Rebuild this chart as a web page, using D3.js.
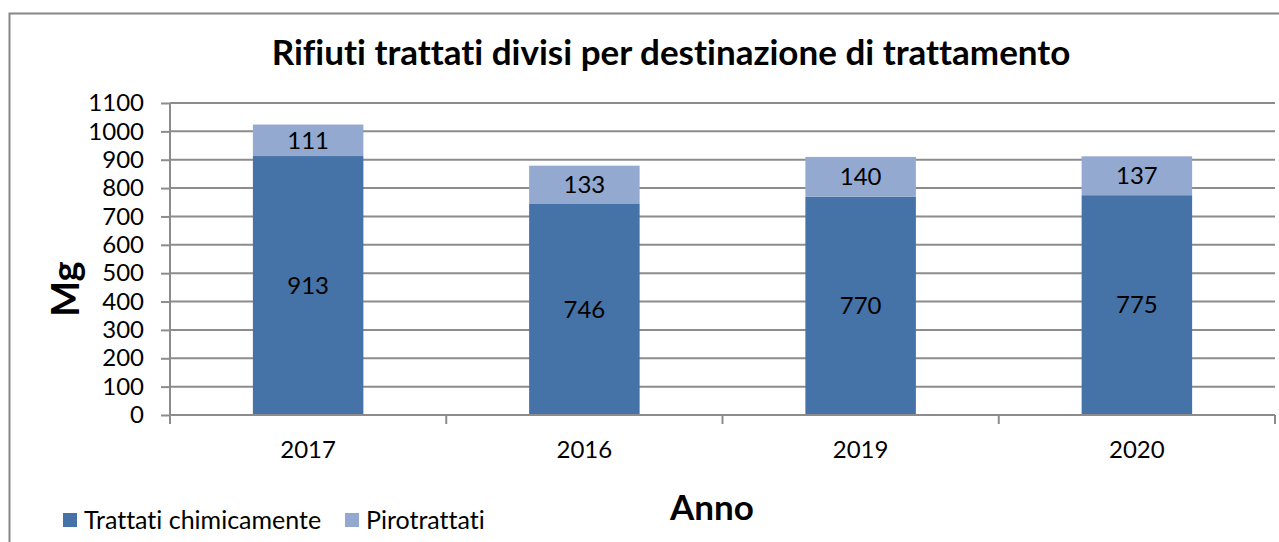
<!DOCTYPE html>
<html>
<head>
<meta charset="utf-8">
<script src="https://cdn.jsdelivr.net/npm/d3@7"></script>
<style>
  body { margin: 0; background: #fff; }
  svg { display: block; font-family: Lato, "Open Sans", sans-serif; font-variant-ligatures: none; }
</style>
</head>
<body>
<script>
// chart data
var years = ["2017", "2016", "2019", "2020"];
var chimici = [913, 746, 770, 775];
var piro = [111, 133, 140, 137];
var seriesNames = ["Trattati chimicamente", "Pirotrattati"];
var seriesColors = ["#4572a7", "#93a9cf"];
var yTicks = [0, 100, 200, 300, 400, 500, 600, 700, 800, 900, 1000, 1100];

var width = 1279, height = 542;
var margin = { top: 103, right: 4, bottom: 127, left: 170 };
var plotW = width - margin.left - margin.right,
    plotH = height - margin.top - margin.bottom;

var svg = d3.select("body").append("svg")
    .attr("width", width)
    .attr("height", height);

// outer frame
svg.append("rect")
    .attr("x", 9.5).attr("y", 13.5)
    .attr("width", 1300).attr("height", 600)
    .attr("fill", "#fff")
    .attr("stroke", "#868686")
    .attr("stroke-width", 2);

svg.append("text")
    .attr("x", 671).attr("y", 65)
    .attr("text-anchor", "middle")
    .attr("font-weight", "bold")
    .attr("font-size", 35)
    .text("Rifiuti trattati divisi per destinazione di trattamento");

var x = d3.scaleBand().domain(years).range([0, plotW]).paddingInner(0.6).paddingOuter(0.3);
var y = d3.scaleLinear().domain([0, 1100]).range([plotH, 0]);

var g = svg.append("g")
    .attr("transform", "translate(" + margin.left + "," + margin.top + ")");

// gridlines
g.selectAll(".grid")
    .data(yTicks.slice(1))
    .enter().append("line")
    .attr("x1", 0).attr("x2", plotW)
    .attr("y1", function(d) { return y(d); })
    .attr("y2", function(d) { return y(d); })
    .attr("stroke", "#8c8c8c")
    .attr("stroke-width", 2);

// stacked bars
var stack = years.map(function(yr, i) {
    return { year: yr, a: chimici[i], b: piro[i] };
});

var bars = g.selectAll(".bar")
    .data(stack)
    .enter().append("g")
    .attr("class", "bar");

bars.append("rect")
    .attr("x", function(d) { return x(d.year); })
    .attr("width", x.bandwidth())
    .attr("y", function(d) { return y(d.a); })
    .attr("height", function(d) { return y(0) - y(d.a); })
    .attr("fill", seriesColors[0]);

bars.append("rect")
    .attr("x", function(d) { return x(d.year); })
    .attr("width", x.bandwidth())
    .attr("y", function(d) { return y(d.a + d.b); })
    .attr("height", function(d) { return y(d.a) - y(d.a + d.b); })
    .attr("fill", seriesColors[1]);

bars.append("text")
    .attr("x", function(d) { return x(d.year) + x.bandwidth() / 2; })
    .attr("y", function(d) { return y(d.a / 2); })
    .attr("dy", "0.35em")
    .attr("text-anchor", "middle")
    .attr("font-size", 24)
    .text(function(d) { return d.a; });

bars.append("text")
    .attr("x", function(d) { return x(d.year) + x.bandwidth() / 2; })
    .attr("y", function(d) { return y(d.a + d.b / 2); })
    .attr("dy", "0.35em")
    .attr("text-anchor", "middle")
    .attr("font-size", 24)
    .text(function(d) { return d.b; });

// y axis
var yAxis = g.append("g")
    .call(d3.axisLeft(y).tickValues(yTicks).tickFormat(d3.format("d")).tickSize(9).tickPadding(17));
yAxis.select(".domain").attr("stroke", "#8c8c8c").attr("stroke-width", 2)
    .attr("d", "M0," + (plotH + 9) + "V0");
yAxis.selectAll(".tick line").attr("stroke", "#8c8c8c").attr("stroke-width", 2);
yAxis.selectAll(".tick text").attr("font-size", 24).attr("fill", "#000")
    .attr("font-family", "Lato, sans-serif");

// x axis with ticks between categories
var xAxis = g.append("g")
    .attr("transform", "translate(0," + plotH + ")");
xAxis.append("line")
    .attr("x1", 0).attr("x2", plotW)
    .attr("stroke", "#8c8c8c").attr("stroke-width", 2);
xAxis.selectAll(".xtick")
    .data(d3.range(years.length + 1))
    .enter().append("line")
    .attr("x1", function(i) { return i * x.step(); })
    .attr("x2", function(i) { return i * x.step(); })
    .attr("y1", 0).attr("y2", 9)
    .attr("stroke", "#8c8c8c").attr("stroke-width", 2);
xAxis.selectAll(".xlabel")
    .data(years)
    .enter().append("text")
    .attr("x", function(d) { return x(d) + x.bandwidth() / 2; })
    .attr("y", 43)
    .attr("text-anchor", "middle")
    .attr("font-size", 24)
    .text(function(d) { return d; });

// axis titles
svg.append("text")
    .attr("transform", "translate(79,289) rotate(-90)")
    .attr("text-anchor", "middle")
    .attr("font-weight", "bold")
    .attr("font-size", 38)
    .text("Mg");

svg.append("text")
    .attr("x", 712).attr("y", 520)
    .attr("text-anchor", "middle")
    .attr("font-weight", "bold")
    .attr("font-size", 35)
    .text("Anno");

// legend
var legendX = [63, 345];
var legend = svg.selectAll(".legend")
    .data(seriesNames)
    .enter().append("g")
    .attr("transform", function(d, i) { return "translate(" + legendX[i] + ",513)"; });
legend.append("rect")
    .attr("width", 14).attr("height", 14)
    .attr("fill", function(d, i) { return seriesColors[i]; });
legend.append("text")
    .attr("x", 21).attr("y", 7)
    .attr("dy", "0.35em")
    .attr("font-size", 25)
    .text(function(d) { return d; });
</script>
</body>
</html>
